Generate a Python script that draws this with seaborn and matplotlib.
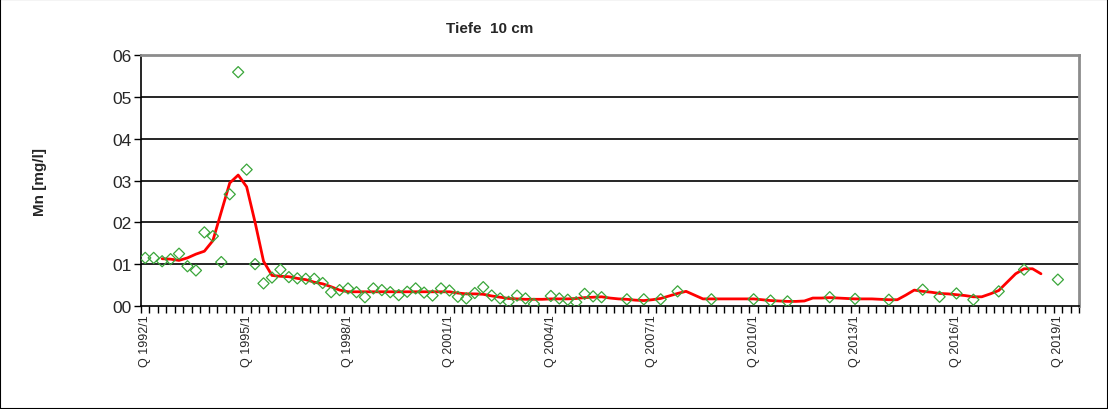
import numpy as np
import pandas as pd
import matplotlib
matplotlib.use("Agg")
import matplotlib.pyplot as plt
from matplotlib.patches import Rectangle
import seaborn as sns

# ------------------------------------------------------------
# Daten: Mn [mg/l] in 10 cm Tiefe, quartalsweise 1992/1 - 2019/3
# (eine Zeile = ein Jahr, None = kein Wert)
# ------------------------------------------------------------
jahre = list(range(1992, 2020))

messwert = [
    0.115, 0.115, 0.107, 0.112,   # 1992
    0.125, 0.095, 0.085, 0.176,   # 1993
    0.167, 0.105, 0.267, 0.559,   # 1994
    0.326, 0.100, 0.054, 0.068,   # 1995
    0.087, 0.069, 0.066, 0.065,   # 1996
    0.065, 0.055, 0.033, 0.038,   # 1997
    0.042, 0.033, 0.021, 0.042,   # 1998
    0.038, 0.033, 0.026, 0.034,   # 1999
    0.042, 0.032, 0.025, 0.042,   # 2000
    0.037, 0.022, 0.018, 0.031,   # 2001
    0.045, 0.025, 0.018, 0.010,   # 2002
    0.025, 0.018, 0.005, None,    # 2003
    0.024, 0.018, 0.015, 0.009,   # 2004
    0.029, 0.023, 0.021, None,    # 2005
    None, 0.016, None, 0.016,     # 2006
    None, 0.016, None, 0.035,     # 2007
    None, None, None, 0.016,      # 2008
    None, None, None, None,       # 2009
    0.016, None, 0.013, None,     # 2010
    0.011, None, None, None,      # 2011
    None, 0.021, None, None,      # 2012
    0.017, None, None, None,      # 2013
    0.015, None, None, None,      # 2014
    0.039, None, 0.022, None,     # 2015
    0.030, None, 0.015, None,     # 2016
    None, 0.035, None, None,      # 2017
    0.087, None, None, None,      # 2018
    0.063, None, None,            # 2019
]

gleitend = [
    None, None, 0.113, 0.112,     # 1992
    0.109, 0.115, 0.124, 0.131,   # 1993
    0.156, 0.225, 0.294, 0.313,   # 1994
    0.285, 0.200, 0.107, 0.073,   # 1995
    0.071, 0.070, 0.066, 0.063,   # 1996
    0.057, 0.053, 0.046, 0.038,   # 1997
    0.034, 0.034, 0.034, 0.034,   # 1998
    0.034, 0.034, 0.034, 0.034,   # 1999
    0.034, 0.034, 0.034, 0.034,   # 2000
    0.034, 0.031, 0.029, 0.029,   # 2001
    0.028, 0.024, 0.021, 0.018,   # 2002
    0.017, 0.016, 0.016, 0.016,   # 2003
    0.017, 0.017, 0.017, 0.018,   # 2004
    0.020, 0.021, 0.022, 0.019,   # 2005
    0.017, 0.016, 0.014, 0.013,   # 2006
    0.015, 0.018, 0.024, 0.030,   # 2007
    0.035, 0.026, 0.017, 0.017,   # 2008
    0.017, 0.017, 0.017, 0.017,   # 2009
    0.017, 0.015, 0.013, 0.012,   # 2010
    0.011, 0.011, 0.012, 0.019,   # 2011
    0.019, 0.020, 0.019, 0.018,   # 2012
    0.017, 0.017, 0.017, 0.016,   # 2013
    0.015, 0.015, 0.026, 0.038,   # 2014
    0.035, 0.033, 0.030, 0.029,   # 2015
    0.027, 0.025, 0.022, 0.022,   # 2016
    0.029, 0.037, 0.057, 0.077,   # 2017
    0.089, 0.089, 0.077, None,    # 2018
    None, None, None,             # 2019
]

y_ticks = [0.0, 0.1, 0.2, 0.3, 0.4, 0.5, 0.6]
y_ticklabels = ["00", "01", "02", "03", "04", "05", "06"]

# Quartals-Kategorien
quartale = [f"Q {j}/{q}" for j in jahre for q in range(1, 5)][:len(messwert)]

df = pd.DataFrame({
    "pos": np.arange(len(quartale)),
    "quartal": quartale,
    "messwert": pd.to_numeric(pd.Series(messwert), errors="coerce"),
    "gleitend": pd.to_numeric(pd.Series(gleitend), errors="coerce"),
})

# ------------------------------------------------------------
# Plot
# ------------------------------------------------------------
sns.set_theme(style="white")
plt.rcParams["font.family"] = ["Liberation Sans", "DejaVu Sans"]

fig = plt.figure(figsize=(11.08, 4.10), dpi=100)
ax = fig.add_axes([141 / 1108, 1 - 307 / 410, 938 / 1108, 251 / 410])

ax.set_axisbelow(True)
for yv in y_ticks[1:]:
    ax.axhline(yv, color="#000000", lw=1.2, zorder=0)

lin = df.dropna(subset=["gleitend"])
sns.lineplot(data=lin, x="pos", y="gleitend", color="#ff0000", lw=2.0, ax=ax, zorder=3)

pts = df.dropna(subset=["messwert"])
sns.scatterplot(data=pts, x="pos", y="messwert", marker="D", s=32,
                facecolors="none", edgecolor="#3aa63a", linewidth=0.9, ax=ax, zorder=4)

ax.set_xlim(-0.5, len(quartale) - 0.5)
ax.set_ylim(0, 0.6)

# x-Achse: Beschriftung alle 3 Jahre, Striche an Kategoriegrenzen
major = df["pos"][::12]
ax.set_xticks(major)
ax.set_xticklabels(df["quartal"][::12], rotation=90, fontsize=9)
ax.set_xticks(np.arange(-0.5, len(quartale), 1.0), minor=True)
ax.tick_params(axis="x", which="major", length=0, pad=6)
ax.tick_params(axis="x", which="minor", length=5, width=1, color="black", direction="out", bottom=True)

ax.set_yticks(y_ticks)
ax.set_yticklabels(y_ticklabels, fontsize=12.5)
ax.tick_params(axis="y", length=5, width=1, color="black", direction="out", left=True, pad=2)

ax.set_xlabel("")
ax.set_ylabel("Mn [mg/l]", fontsize=11, fontweight="bold")
ax.yaxis.set_label_coords(-0.1, 0.5)

for side in ["left", "bottom"]:
    ax.spines[side].set_color("black")
    ax.spines[side].set_linewidth(1.2)
for side in ["top", "right"]:
    ax.spines[side].set_color("#8c8c8c")
    ax.spines[side].set_linewidth(2.0)

fig.text(490 / 1108, 1 - 29 / 410, "Tiefe  10 cm", ha="center", va="center",
         fontsize=11, fontweight="bold")

fig.patches.append(Rectangle((0, 0), 1, 1, transform=fig.transFigure, fill=False,
                             edgecolor="black", lw=1.5))

fig.savefig("out.png", dpi=100)
